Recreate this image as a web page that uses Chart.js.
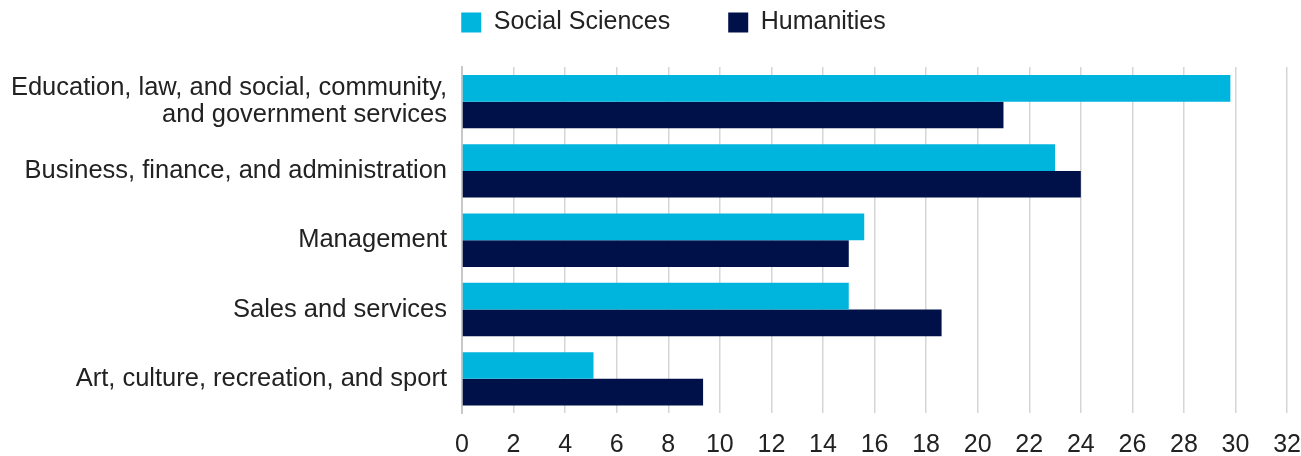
<!DOCTYPE html>
<html>
<head>
<meta charset="utf-8">
<script src="https://cdn.jsdelivr.net/npm/chart.js@4.4.1/dist/chart.umd.min.js"></script>
<style>
    html, body { margin: 0; padding: 0; background: #fff; }
    #wrap { width: 1301px; height: 456px; }
</style>
</head>
<body>
<div id="wrap"><canvas id="barChart"></canvas></div>
<script>
// datos
const categorias = [
    ['Education, law, and social, community,', 'and government services'],
    'Business, finance, and administration',
    'Management',
    'Sales and services',
    'Art, culture, recreation, and sport'
];
const socialSciences = [29.8, 23.0, 15.6, 15.0, 5.1];
const humanities = [21.0, 24.0, 15.0, 18.6, 9.35];
const ticksX = [0, 2, 4, 6, 8, 10, 12, 14, 16, 18, 20, 22, 24, 26, 28, 30, 32];

const legendPad = 58;

// leyenda: altura fija y un poco corrida a la derecha
const ajusteLeyenda = {
    id: 'ajusteLeyenda',
    beforeInit(chart) {
        const fitOriginal = chart.legend.fit;
        chart.legend.fit = function () {
            fitOriginal.bind(chart.legend)();
            this.height = 67;
        };
    },
    afterLayout(chart) {
        chart.legend.left += 23;
        chart.legend.right += 23;
        chart.legend.top = 10 - legendPad;
    }
};

document.addEventListener('DOMContentLoaded', function () {
    var ctx = document.getElementById('barChart').getContext('2d');

    var myChart = new Chart(ctx, {
        type: 'bar',
        data: {
            labels: categorias,
            datasets: [{
                label: 'Social Sciences',
                data: socialSciences,
                backgroundColor: '#00B5DD'
            }, {
                label: 'Humanities',
                data: humanities,
                backgroundColor: '#00114A'
            }]
        },
        plugins: [ajusteLeyenda],
        options: {
            indexAxis: 'y',
            responsive: true,
            maintainAspectRatio: false,
            animation: false,
            categoryPercentage: 0.77,
            barPercentage: 1.0,
            layout: {
                padding: 0
            },
            plugins: {
                tooltip: { enabled: false },
                legend: {
                    position: 'top',
                    labels: {
                        color: '#222',
                        font: { family: 'Liberation Sans', size: 25 },
                        boxWidth: 20,
                        boxHeight: 20,
                        padding: legendPad
                    }
                }
            },
            scales: {
                x: {
                    min: 0,
                    max: 32,
                    afterBuildTicks: function (scale) {
                        scale.ticks = ticksX.map(v => ({ value: v }));
                    },
                    afterFit: function (scale) {
                        scale.height = 40;
                    },
                    grid: {
                        color: '#d6d6d6',
                        lineWidth: 1.5,
                        drawTicks: true,
                        tickLength: 19,
                        tickColor: 'rgba(0,0,0,0)'
                    },
                    border: { display: false },
                    ticks: {
                        color: '#222',
                        padding: 0,
                        font: { family: 'Liberation Sans', size: 25, lineHeight: 1.0 }
                    }
                },
                y: {
                    afterFit: function (scale) {
                        scale.width = 462;
                    },
                    grid: { display: false, drawTicks: false },
                    border: { display: true, color: '#c8c8c8', width: 2 },
                    ticks: {
                        color: '#222',
                        padding: 15,
                        font: { family: 'Liberation Sans', size: 25.5, lineHeight: 1.08 }
                    }
                }
            }
        }
    });
});
</script>
</body>
</html>
